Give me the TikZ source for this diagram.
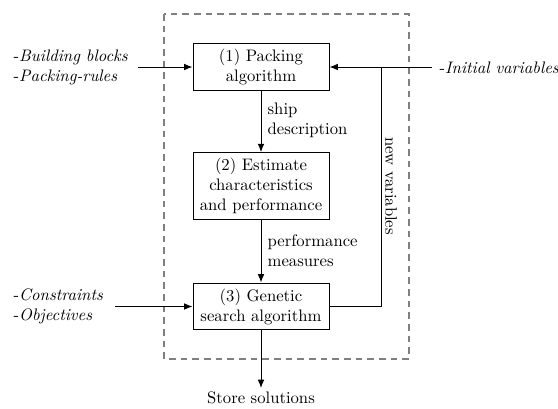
\documentclass[tikz,border=0pt]{standalone}
\usetikzlibrary{arrows.meta}
\begin{document}
\begin{tikzpicture}[x=0.6pt,y=-0.6pt,
  box/.style={draw,semithick,align=center,minimum width=81.6pt,inner sep=3.3pt},
  lbl/.style={align=left,inner sep=2pt},
  arr/.style={semithick,-{Latex[length=5pt,width=4pt]}},
  line/.style={semithick},
  dashbox/.style={draw=gray,thick,dash pattern=on 4pt off 3pt}]
\useasboundingbox (0,0) rectangle (558,408);
\draw[dashbox] (164,14) rectangle (409,359);
\node[box] (b1) at (261,67) {(1) Packing\\algorithm};
\node[box] (b2) at (261,186) {(2) Estimate\\characteristics\\and performance};
\node[box] (b3) at (261,306.5) {(3) Genetic\\search algorithm};
\node[lbl,anchor=west] (t1) at (10,67) {-\textit{Building blocks}\\-\textit{Packing-rules}};
\node[lbl,anchor=west] (t2) at (436,68) {-\textit{Initial variables}};
\node[lbl,anchor=west] (t3) at (10,306) {-\textit{Constraints}\\-\textit{Objectives}};
\node[lbl,anchor=west] (l1) at (264,120) {ship\\description};
\node[lbl,anchor=west] (l2) at (264,251) {performance\\measures};
\node[lbl,rotate=-90] (l3) at (391,186) {new variables};
\node[lbl,anchor=north] (st) at (261,388) {Store solutions};
\coordinate (c1) at (138,67);
\coordinate (c3) at (115,306.5);
\coordinate (c2) at (432,67);
\coordinate (j) at (381,67);
\draw[arr] (c1) -- (b1.west);
\draw[arr] (c3) -- (b3.west);
\draw[arr] (c2) -- (b1.east);
\draw[line] (b3.east) -| (j);
\draw[arr] (b1) -- (b2);
\draw[arr] (b2) -- (b3);
\draw[arr] (b3) -- (st);
\end{tikzpicture}
\end{document}
